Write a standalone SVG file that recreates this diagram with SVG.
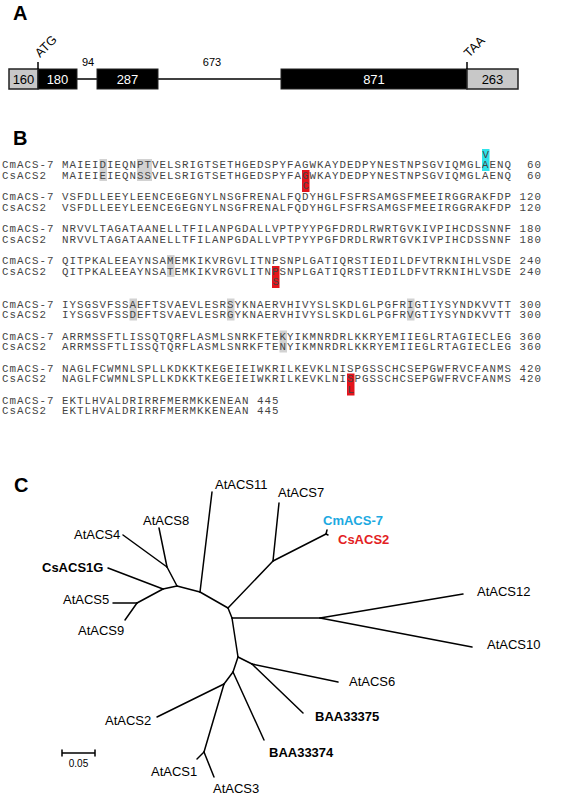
<svg xmlns="http://www.w3.org/2000/svg" width="565" height="797" viewBox="0 0 565 797">
<style>
.pl{font-family:"Liberation Sans",Arial,sans-serif;font-weight:bold;font-size:20px;fill:#000}
.num{font-family:"Liberation Sans",Arial,sans-serif;font-size:13px;text-anchor:middle}
.sm{font-family:"Liberation Sans",Arial,sans-serif;font-size:11px;text-anchor:middle;fill:#000}
.rot{font-family:"Liberation Sans",Arial,sans-serif;font-size:12.5px;fill:#000}
.ex{fill:#000;stroke:#222;stroke-width:1}
.utr{fill:#c8c8c8;stroke:#222;stroke-width:1.5}
.ln{stroke:#000;stroke-width:1.5;fill:none}
.seq{font-family:"Liberation Mono","Courier New",monospace;font-size:10.8px;letter-spacing:1.02px;fill:#444;white-space:pre}
.hg{fill:#d2d2d2}
.hr{fill:#e3141c}
.hc{fill:#2fe3ea}
.lf{font-family:"Liberation Sans",Arial,sans-serif;font-size:13px;fill:#000}
.bd{font-weight:bold}
.br{stroke:#000;stroke-width:1.5;fill:none;stroke-linecap:round;stroke-linejoin:round}
</style>

<!-- Panel A -->
<text class="pl" x="13" y="20">A</text>
<g id="geneA">
  <g id="introns" class="ln">
    <line x1="77" y1="79" x2="97" y2="79"/>
    <line x1="158" y1="79" x2="281" y2="79"/>
  </g>
  <g id="utr5"><rect class="utr" x="9" y="69" width="29" height="20"/><text class="num" x="23.5" y="84" fill="#000">160</text></g>
  <g id="exon1"><rect class="ex" x="38" y="69" width="39" height="20"/><text class="num" x="57.5" y="84" fill="#fff">180</text></g>
  <g id="exon2"><rect class="ex" x="97" y="69" width="61" height="20"/><text class="num" x="127.5" y="84" fill="#fff">287</text></g>
  <g id="exon3"><rect class="ex" x="281" y="69" width="186" height="20"/><text class="num" x="374" y="84" fill="#fff">871</text></g>
  <g id="utr3"><rect class="utr" x="467" y="69" width="51" height="20"/><text class="num" x="492.5" y="84" fill="#000">263</text></g>
  <line class="ln" x1="38" y1="62" x2="38" y2="69"/>
  <line class="ln" x1="467" y1="62" x2="467" y2="69"/>
  <text class="rot" transform="translate(40,58) rotate(-45)">ATG</text>
  <text class="rot" transform="translate(469,58) rotate(-45)">TAA</text>
  <text class="sm" x="88" y="66">94</text>
  <text class="sm" x="212" y="66">673</text>
</g>

<!-- Panel B -->
<text class="pl" x="13" y="145">B</text>
<g id="alignment">
  <g id="highlights">
    <rect class="hc" x="482" y="149" width="7.5" height="22"/>
    <rect class="hg" x="99.5" y="159" width="7.5" height="22"/>
    <rect class="hg" x="137" y="159" width="15" height="22"/>
    <rect class="hr" x="302" y="170" width="7.5" height="22"/>
    <rect class="hg" x="167" y="255" width="7.5" height="22"/>
    <rect class="hr" x="272" y="266" width="7.5" height="22"/>
    <rect class="hg" x="129.5" y="298.5" width="7.5" height="22"/>
    <rect class="hg" x="227" y="298.5" width="7.5" height="22"/>
    <rect class="hg" x="407" y="298.5" width="7.5" height="22"/>
    <rect class="hg" x="279.5" y="330.5" width="7.5" height="22"/>
    <rect class="hr" x="347" y="373.5" width="7.5" height="22"/>
  </g>
  <g class="seq">
    <text x="482.5" y="157.5">V</text>
    <text x="2" y="168">CmACS-7</text><text x="62" y="168">MAIEIDIEQNPTVELSRIGTSETHGEDSPYFAGWKAYDEDPYNESTNPSGVIQMGLAENQ</text><text x="527" y="168">60</text>
    <text x="2" y="178.5">CsACS2</text><text x="62" y="178.5">MAIEIEIEQNSSVELSRIGTSETHGEDSPYFAGWKAYDEDPYNESTNPSGVIQMGLAENQ</text><text x="527" y="178.5">60</text>
    <text x="302.5" y="189">C</text>

    <text x="2" y="200">CmACS-7</text><text x="62" y="200">VSFDLLEEYLEENCEGEGNYLNSGFRENALFQDYHGLFSFRSAMGSFMEEIRGGRAKFDP</text><text x="519.5" y="200">120</text>
    <text x="2" y="210.5">CsACS2</text><text x="62" y="210.5">VSFDLLEEYLEENCEGEGNYLNSGFRENALFQDYHGLFSFRSAMGSFMEEIRGGRAKFDP</text><text x="519.5" y="210.5">120</text>

    <text x="2" y="232">CmACS-7</text><text x="62" y="232">NRVVLTAGATAANELLTFILANPGDALLVPTPYYPGFDRDLRWRTGVKIVPIHCDSSNNF</text><text x="519.5" y="232">180</text>
    <text x="2" y="242.5">CsACS2</text><text x="62" y="242.5">NRVVLTAGATAANELLTFILANPGDALLVPTPYYPGFDRDLRWRTGVKIVPIHCDSSNNF</text><text x="519.5" y="242.5">180</text>

    <text x="2" y="264">CmACS-7</text><text x="62" y="264">QITPKALEEAYNSAMEMKIKVRGVLITNPSNPLGATIQRSTIEDILDFVTRKNIHLVSDE</text><text x="519.5" y="264">240</text>
    <text x="2" y="274.5">CsACS2</text><text x="62" y="274.5">QITPKALEEAYNSATEMKIKVRGVLITNPSNPLGATIQRSTIEDILDFVTRKNIHLVSDE</text><text x="519.5" y="274.5">240</text>
    <text x="272.5" y="285">S</text>

    <text x="2" y="307.5">CmACS-7</text><text x="62" y="307.5">IYSGSVFSSAEFTSVAEVLESRSYKNAERVHIVYSLSKDLGLPGFRIGTIYSYNDKVVTT</text><text x="519.5" y="307.5">300</text>
    <text x="2" y="318">CsACS2</text><text x="62" y="318">IYSGSVFSSDEFTSVAEVLESRGYKNAERVHIVYSLSKDLGLPGFRVGTIYSYNDKVVTT</text><text x="519.5" y="318">300</text>

    <text x="2" y="339.5">CmACS-7</text><text x="62" y="339.5">ARRMSSFTLISSQTQRFLASMLSNRKFTEKYIKMNRDRLKKRYEMIIEGLRTAGIECLEG</text><text x="519.5" y="339.5">360</text>
    <text x="2" y="350">CsACS2</text><text x="62" y="350">ARRMSSFTLISSQTQRFLASMLSNRKFTENYIKMNRDRLKKRYEMIIEGLRTAGIECLEG</text><text x="519.5" y="350">360</text>

    <text x="2" y="371.5">CmACS-7</text><text x="62" y="371.5">NAGLFCWMNLSPLLKDKKTKEGEIEIWKRILKEVKLNISPGSSCHCSEPGWFRVCFANMS</text><text x="519.5" y="371.5">420</text>
    <text x="2" y="382">CsACS2</text><text x="62" y="382">NAGLFCWMNLSPLLKDKKTKEGEIEIWKRILKEVKLNISPGSSCHCSEPGWFRVCFANMS</text><text x="519.5" y="382">420</text>
    <text x="347.5" y="392.5">L</text>

    <text x="2" y="403.5">CmACS-7</text><text x="62" y="403.5">EKTLHVALDRIRRFMERMKKENEAN</text><text x="257" y="403.5">445</text>
    <text x="2" y="414">CsACS2</text><text x="62" y="414">EKTLHVALDRIRRFMERMKKENEAN</text><text x="257" y="414">445</text>
  </g>
</g>

<!-- Panel C -->
<text class="pl" x="14" y="492">C</text>
<g id="connectors" class="br">
  <path d="M123,535 L167,567"/>
  <path d="M159,528 L167,567"/>
  <path d="M167,567 L177,586"/>
  <path d="M177,586 L163,589"/>
  <path d="M108,568 L163,589"/>
  <path d="M163,589 L137,603"/>
  <path d="M113,603 L137,603"/>
  <path d="M137,603 L125,620"/>
  <path d="M177,586 L200,592"/>
  <path d="M200,592 L212,492"/>
  <path d="M200,592 L228,608"/>
  <path d="M228,608 L273,561"/>
  <path d="M273,561 L279,503"/>
  <path d="M273,561 L326,534"/>
  <path d="M326,534 L327,530"/>
  <path d="M326,534 L328,535"/>
  <path d="M228,608 L232,618"/>
  <path d="M232,618 L320,618"/>
  <path d="M320,618 L463,594"/>
  <path d="M320,618 L472,647"/>
  <path d="M232,618 L238,657"/>
  <path d="M238,657 L252,664"/>
  <path d="M252,664 L338,682"/>
  <path d="M252,664 L303,713"/>
  <path d="M238,657 L233,672"/>
  <path d="M233,672 L264,740"/>
  <path d="M233,672 L224,684"/>
  <path d="M224,684 L157,717"/>
  <path d="M224,684 L204,752"/>
  <path d="M204,752 L197,759"/>
  <path d="M204,752 L214,777"/>
</g>
<g id="leaves">
  <g id="AtACS11"><text class="lf" x="215" y="488.5">AtACS11</text></g>
  <g id="AtACS7"><text class="lf" x="278" y="497">AtACS7</text></g>
  <g id="CmACS-7"><text class="lf bd" x="323" y="525" style="fill:#1ca9e1">CmACS-7</text></g>
  <g id="CsACS2"><text class="lf bd" x="338" y="544" style="fill:#e31e24">CsACS2</text></g>
  <g id="AtACS8"><text class="lf" x="143" y="525">AtACS8</text></g>
  <g id="AtACS4"><text class="lf" x="74" y="538.5">AtACS4</text></g>
  <g id="CsACS1G"><text class="lf bd" x="42" y="572">CsACS1G</text></g>
  <g id="AtACS5"><text class="lf" x="63" y="604">AtACS5</text></g>
  <g id="AtACS9"><text class="lf" x="78" y="635">AtACS9</text></g>
  <g id="AtACS12"><text class="lf" x="477" y="596">AtACS12</text></g>
  <g id="AtACS10"><text class="lf" x="487" y="649">AtACS10</text></g>
  <g id="AtACS6"><text class="lf" x="349" y="685.5">AtACS6</text></g>
  <g id="BAA33375"><text class="lf bd" x="315" y="721">BAA33375</text></g>
  <g id="AtACS2"><text class="lf" x="105" y="724.5">AtACS2</text></g>
  <g id="BAA33374"><text class="lf bd" x="269" y="757">BAA33374</text></g>
  <g id="AtACS1"><text class="lf" x="151" y="775.5">AtACS1</text></g>
  <g id="AtACS3"><text class="lf" x="213" y="793">AtACS3</text></g>
</g>
<g id="scalebar">
  <path class="br" d="M62,753 L95,753 M62,750 L62,756 M95,750 L95,756"/>
  <text x="78.5" y="767" style="font-family:'Liberation Sans',Arial,sans-serif;font-size:10px;text-anchor:middle">0.05</text>
</g>
</svg>
